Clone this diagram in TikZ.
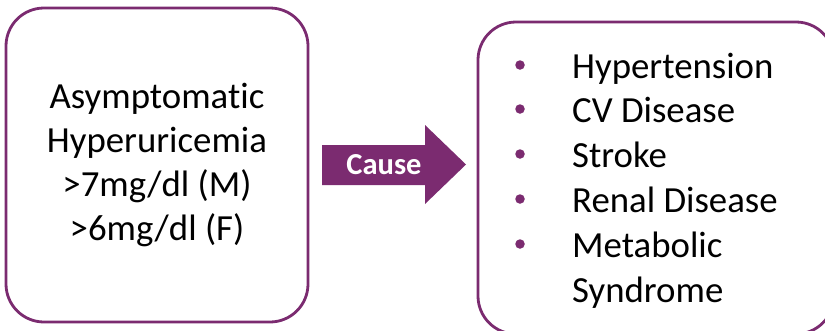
\documentclass[tikz,border=0pt]{standalone}
\usepackage{fontspec}
\setmainfont{Carlito}[Ligatures=NoCommon]
\definecolor{plum}{RGB}{123,43,112}
\begin{document}
\begin{tikzpicture}[x=1pt,y=-1pt,
  panel/.style={draw=plum, line width=2.8pt, rounded corners=38pt, fill=white, inner sep=0pt},
  bodytext/.style={font=\fontsize{36.8}{44}\selectfont, text=black},
  listitem/.style={bodytext, anchor=base west, inner sep=0pt},
  dot/.style={circle, fill=plum, inner sep=0pt, minimum size=9.5pt}]
\useasboundingbox (0,0) rectangle (825,330);
\clip (0,0) rectangle (825,330);

% condition box
\node[panel, bodytext, align=center, minimum width=302pt, minimum height=314pt] (cond) at (157,165)
  {Asymptomatic\\Hyperuricemia\\>7mg/dl (M)\\>6mg/dl (F)};

% consequences box (runs past the right and bottom edges)
\node[panel, minimum width=356pt, minimum height=312pt] (effects) at (656,178) {};

% block arrow with its label
\fill[plum] (322,145) -- (425,145) -- (425,125) -- (466,164.5) -- (425,204) -- (425,185) -- (322,185) -- cycle;
\node[font=\fontsize{30.5}{36}\selectfont\bfseries, text=white] (cause) at (384,165) {Cause};

% bulleted list
\foreach \t/\y [count=\i] in {Hypertension/78, CV Disease/122, Stroke/167, Renal Disease/212, Metabolic/257} {
  \node[listitem] (item\i) at (572,\y) {\t};
  \node[dot] (bullet\i) at (520,{\y-13}) {};
}
\node[listitem] (item6) at (572,302) {Syndrome};
\end{tikzpicture}
\end{document}
